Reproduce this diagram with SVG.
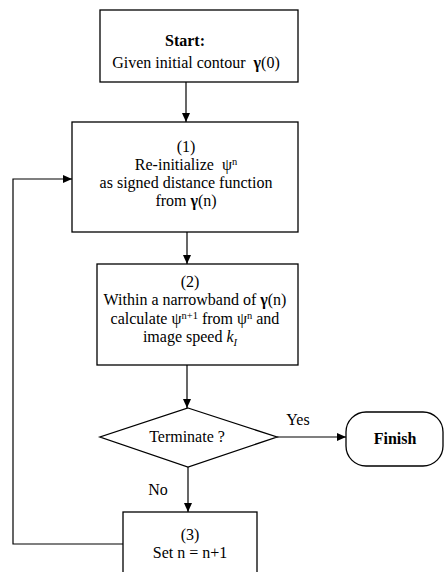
<svg xmlns="http://www.w3.org/2000/svg" width="444" height="572" viewBox="0 0 444 572">
<defs>
<marker id="ah" markerWidth="10" markerHeight="8" refX="9" refY="4" orient="auto" markerUnits="userSpaceOnUse">
<path d="M0,0 L9,4 L0,8 Z" fill="#000"/>
</marker>
</defs>
<style>
.box{fill:#fff;stroke:#000;stroke-width:1.3}
.t{font-family:"Liberation Serif","Times New Roman",serif;font-size:16px;fill:#000;text-anchor:middle}
.b{font-weight:bold}
.sup{font-size:10.5px}
.edge{fill:none;stroke:#000;stroke-width:1.2;marker-end:url(#ah)}
</style>
<rect width="444" height="572" fill="#fff"/>
<g id="connectors">
<path class="edge" d="M186,82 L186,122"/>
<path class="edge" d="M187,232 L187,264"/>
<path class="edge" d="M187,365 L187,408"/>
<path class="edge" d="M277,437 L346,437"/>
<path class="edge" d="M188,467 L188,512"/>
<path class="edge" d="M123,544 L13,544 L13,179 L72,179"/>
<text class="t" x="298" y="425">Yes</text>
<text class="t" x="158" y="495">No</text>
</g>
<g id="start">
<rect class="box" x="100" y="10" width="198" height="72"/>
<text class="t b" x="185" y="46">Start:</text>
<text class="t" x="196" y="68">Given initial contour &#160;<tspan font-weight="bold">γ</tspan>(0)</text>
</g>
<g id="step1">
<rect class="box" x="72" y="122" width="226" height="110"/>
<text class="t" x="186" y="152">(1)</text>
<text class="t" x="186" y="170">Re-initialize &#160;ψ<tspan class="sup" dy="-5">n</tspan></text>
<text class="t" x="186" y="188">as signed distance function</text>
<text class="t" x="186" y="206">from <tspan font-weight="bold">γ</tspan>(n)</text>
</g>
<g id="step2">
<rect class="box" x="97" y="264" width="201" height="101"/>
<text class="t" x="190" y="287">(2)</text>
<text class="t" x="195" y="305">Within a narrowband of <tspan font-weight="bold">γ</tspan>(n)</text>
<text class="t" x="195" y="324">calculate ψ<tspan class="sup" dy="-5">n+1</tspan><tspan dy="5"> from ψ</tspan><tspan class="sup" dy="-5">n</tspan><tspan dy="5"> and</tspan></text>
<text class="t" x="190" y="342">image speed <tspan font-style="italic">k</tspan><tspan class="sup" font-style="italic" dy="4">I</tspan></text>
</g>
<g id="decision">
<polygon class="box" points="188,408 277,437 188,467 100,437"/>
<text class="t" x="187" y="442">Terminate ?</text>
</g>
<g id="finish">
<rect class="box" x="346" y="412" width="97" height="54" rx="20" ry="20"/>
<text class="t b" x="395" y="444">Finish</text>
</g>
<g id="step3">
<rect class="box" x="123" y="512" width="134" height="70"/>
<text class="t" x="190" y="540">(3)</text>
<text class="t" x="190" y="558">Set n = n+1</text>
</g>
</svg>
